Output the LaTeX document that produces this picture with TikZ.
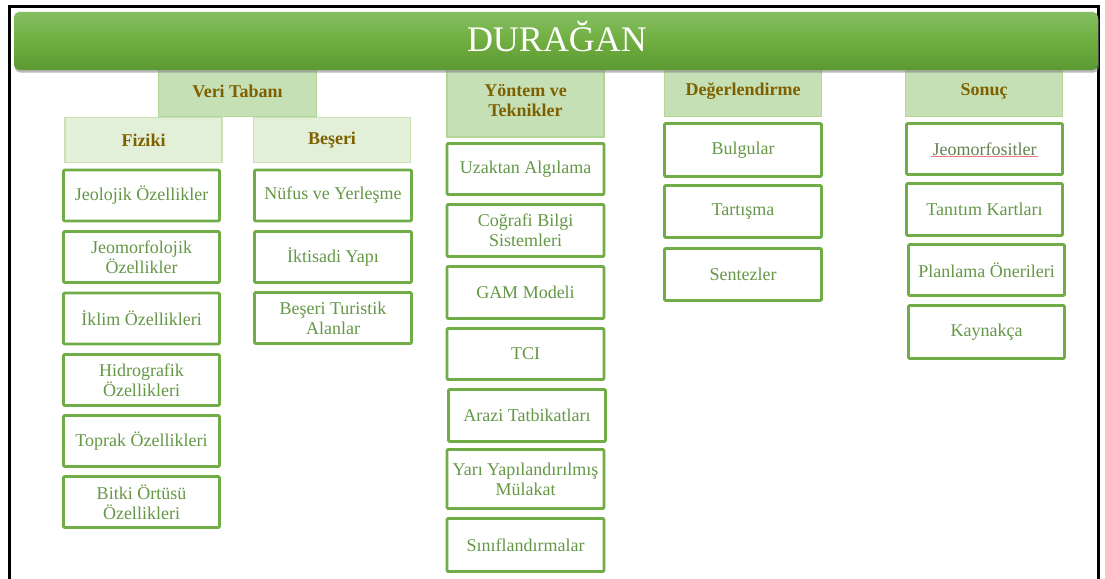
\documentclass[tikz,border=0pt]{standalone}
\usepackage{fontspec}
\setmainfont{Liberation Serif}
\usetikzlibrary{shadows}
\definecolor{boxgreen}{RGB}{112,173,71}
\definecolor{txtgreen}{RGB}{100,152,70}
\definecolor{jeotxt}{RGB}{98,128,80}
\definecolor{hdrfill}{RGB}{197,224,180}
\definecolor{hdrline}{RGB}{178,214,152}
\definecolor{subfill}{RGB}{226,240,217}
\definecolor{subline}{RGB}{200,226,182}
\definecolor{hdrtext}{RGB}{127,96,0}
\definecolor{bantop}{RGB}{132,190,96}
\definecolor{banmid}{RGB}{112,174,64}
\definecolor{banbot}{RGB}{92,152,50}
\definecolor{spell}{RGB}{235,120,130}
\tikzset{
  itembox/.style={draw=boxgreen, line width=2.8pt, fill=white, rounded corners=1.2pt,
    text=txtgreen, font=\fontsize{18}{20}\selectfont, align=center, inner sep=0pt},
  hdrbox/.style={draw=hdrline, line width=1.4pt, fill=hdrfill, text=hdrtext,
    font=\fontsize{18}{21}\selectfont\bfseries, align=center, inner sep=0pt},
  subbox/.style={draw=subline, line width=1.4pt, fill=subfill, text=hdrtext,
    font=\fontsize{18}{21}\selectfont\bfseries, align=center, inner sep=0pt},
}
\begin{document}
\begin{tikzpicture}[x=1pt,y=-1pt]
\useasboundingbox (0,0) rectangle (1105,578);
\fill[white] (0,0) rectangle (1105,578);
% outer frame
\draw[line width=2.6pt, black] (9.5,600) -- (9.5,6.5) -- (1098.5,6.5) -- (1098.5,600);

% header boxes (behind banner)
\node[hdrbox, minimum width=157pt, minimum height=70pt] (yontem) at (525.5,102) {\raisebox{-1pt}{\begin{tabular}{@{}c@{}}Yöntem ve\\[-1pt]Teknikler\end{tabular}}};
\node[hdrbox, minimum width=157pt, minimum height=50pt] (deger) at (743,91.5) {\raisebox{-1pt}{Değerlendirme}};
\node[hdrbox, minimum width=157pt, minimum height=50pt] (sonuc) at (984,91.5) {\raisebox{-1pt}{Sonuç}};

\node[subbox, minimum width=157pt, minimum height=45pt] (fiziki) at (143.5,140) {\raisebox{-1pt}{Fiziki}};
\node[subbox, minimum width=157pt, minimum height=45pt] (beseri) at (332,140) {Beşeri};
\node[hdrbox, minimum width=158pt, minimum height=50pt] (veri) at (237.5,91.5) {\raisebox{-1.5pt}{Veri Tabanı}};

% banner
\shade[top color=bantop, bottom color=banbot, middle color=banmid, rounded corners=5pt,
  drop shadow={shadow xshift=1pt, shadow yshift=-2.5pt, opacity=0.55}]
  (14,12) rectangle (1098,70);
\node[text=white, font=\fontsize{36}{40}\selectfont, anchor=base] (title) at (557,52) {DURAĞAN};

% Fiziki column
\node[itembox, minimum width=156pt, minimum height=51pt] (jeoloji) at (141.5,195.5) {Jeolojik Özellikler};
\node[itembox, minimum width=156pt, minimum height=51pt] (jeomorf) at (141.5,257) {Jeomorfolojik\\Özellikler};
\node[itembox, minimum width=156pt, minimum height=51pt] (iklim) at (141.5,318.5) {İklim Özellikleri};
\node[itembox, minimum width=156pt, minimum height=51pt] (hidro) at (141.5,380) {Hidrografik\\Özellikleri};
\node[itembox, minimum width=156pt, minimum height=51pt] (toprak) at (141.5,441) {Toprak Özellikleri};
\node[itembox, minimum width=156pt, minimum height=51pt] (bitki) at (141.5,502) {Bitki Örtüsü\\Özellikleri};

% Beseri column
\node[itembox, minimum width=157pt, minimum height=51pt] (nufus) at (333,195.5) {Nüfus ve Yerleşme};
\node[itembox, minimum width=157pt, minimum height=51pt] (iktisat) at (333,257) {İktisadi Yapı};
\node[itembox, minimum width=157pt, minimum height=51pt] (turist) at (333,318) {Beşeri Turistik\\Alanlar};

% Yontem column
\node[itembox, minimum width=157pt, minimum height=51pt] (uzak) at (525.5,169) {Uzaktan Algılama};
\node[itembox, minimum width=157pt, minimum height=52pt] (cbs) at (525.5,230.5) {Coğrafi Bilgi\\Sistemleri};
\node[itembox, minimum width=157pt, minimum height=52pt] (gam) at (525.5,292.5) {GAM Modeli};
\node[itembox, minimum width=157pt, minimum height=51pt] (tci) at (525.5,354) {TCI};
\node[itembox, minimum width=157pt, minimum height=52pt] (arazi) at (527,415.5) {Arazi Tatbikatları};
\node[itembox, minimum width=157pt, minimum height=59pt] (mulakat) at (525.5,479) {Yarı Yapılandırılmış\\Mülakat};
\node[itembox, minimum width=157pt, minimum height=53pt] (sinif) at (525.5,545) {Sınıflandırmalar};

% Degerlendirme column
\node[itembox, minimum width=157pt, minimum height=53pt] (bulgu) at (743,150) {Bulgular};
\node[itembox, minimum width=157pt, minimum height=52pt] (tartis) at (743,211.5) {Tartışma};
\node[itembox, minimum width=157pt, minimum height=52pt] (sentez) at (743,274.5) {Sentezler};

% Sonuc column
\node[itembox, minimum width=156pt, minimum height=51pt, text=jeotxt] (jeosit) at (984.5,149) {Jeomorfositler};
\draw[spell, line width=0.6pt] (931,156.5) -- (1038,156.5);
\node[itembox, minimum width=156pt, minimum height=52pt] (tanitim) at (984.5,209.5) {Tanıtım Kartları};
\node[itembox, minimum width=156pt, minimum height=51pt] (planlama) at (986.5,270) {Planlama Önerileri};
\node[itembox, minimum width=156pt, minimum height=53pt] (kaynak) at (986.5,332) {Kaynakça};
\end{tikzpicture}
\end{document}
